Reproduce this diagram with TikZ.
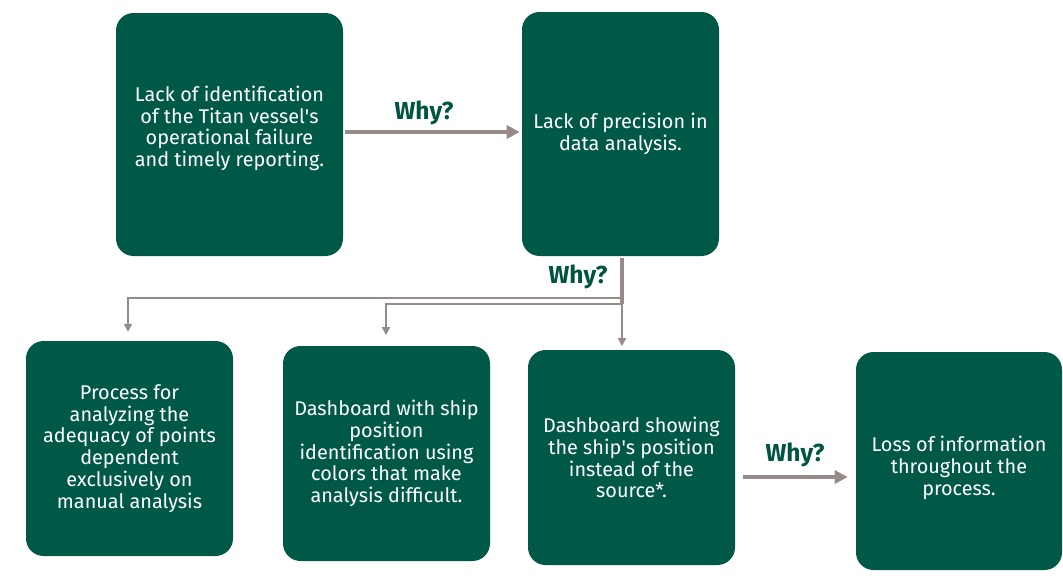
\documentclass[tikz,border=0pt]{standalone}
\usepackage{fontspec}
\setmainfont{Fira Sans}
\usetikzlibrary{arrows.meta}
\definecolor{causeFill}{RGB}{0,89,70}
\definecolor{whyText}{RGB}{0,84,66}
\definecolor{arrowGrey}{RGB}{150,139,137}
\tikzset{
  arrow/.style={-{Triangle[length=2.6mm,width=2.6mm]}, draw=arrowGrey, line width=2.6pt},
  branch/.style={-{Triangle[length=1.6mm,width=1.6mm]}, draw=arrowGrey, line width=1.5pt},
  cause/.style={
    rounded corners=10pt,
    fill=causeFill,
    text=white,
    align=center,
    inner sep=0pt,
    font=\fontsize{11.3}{12.4}\selectfont
  },
  why/.style={font=\bfseries\fontsize{14}{16}\selectfont, text=whyText}
}

\begin{document}
\begin{tikzpicture}[x=0.02cm,y=-0.02cm]
  \useasboundingbox (0,0) rectangle (1063,576);

  % top row
  \node[cause, minimum width=227*0.02cm, minimum height=243*0.02cm] (lack) at (229.5,134.5)
    {Lack of identification\\of the Titan vessel\textquotesingle s\\operational failure\\and timely reporting.\\[-3pt]};
  \node[cause, minimum width=197*0.02cm, minimum height=244*0.02cm] (precision) at (620.5,134)
    {Lack of precision in\\data analysis.};

  % bottom row
  \node[cause, minimum width=207*0.02cm, minimum height=215*0.02cm] (manual) at (129.5,448.5)
    {Process for\\analyzing the\\adequacy of points\\dependent\\exclusively on\\manual analysis};
  \node[cause, minimum width=207*0.02cm, minimum height=215*0.02cm] (colors) at (386.5,453.5)
    {Dashboard with ship\\position\\identification using\\colors that make\\analysis difficult.};
  \node[cause, minimum width=207*0.02cm, minimum height=215*0.02cm] (position) at (631.5,457.5)
    {Dashboard showing\\the ship\textquotesingle s position\\instead of the\\source*.};
  \node[cause, minimum width=206*0.02cm, minimum height=218*0.02cm] (loss) at (959,461)
    {Loss of information\\throughout the\\process.\\[-18pt]};

  % why labels
  \node[why] (why1) at (424,113) {Why?};
  \node[why] (why2) at (578,277) {Why?};
  \node[why] (why3) at (795,455) {Why?};

  % connectors
  \coordinate (split) at (622,304);
  \coordinate (splitleft) at (622,298);
  \draw[arrow] ([xshift=1.1pt]lack.east |- 0,132) -- ([xshift=-1.1pt]precision.west |- 0,132);
  \draw[draw=arrowGrey, line width=2.2pt] (622,258) -- (split);
  \draw[branch] (splitleft) -| ([yshift=5pt]manual.north -| 128,0);
  \draw[branch] (split) -| ([yshift=6pt]colors.north -| 386,0);
  \draw[branch] (split) -- ([yshift=2pt]position.north -| 622,0);
  \draw[arrow] ([xshift=4.5pt]position.east |- 0,477) -- ([xshift=-4.5pt]loss.west |- 0,477);
\end{tikzpicture}
\end{document}
